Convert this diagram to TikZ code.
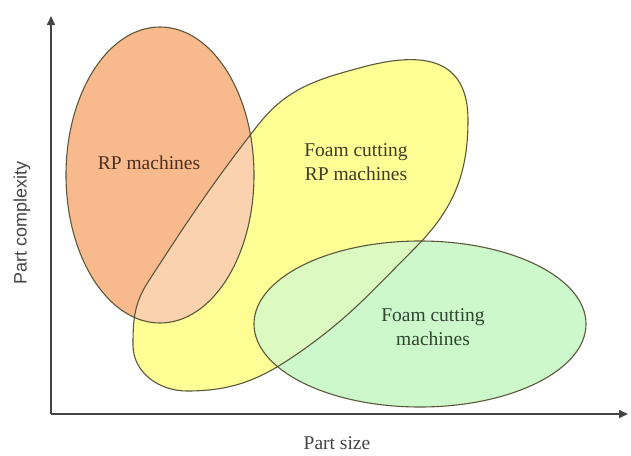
\documentclass[tikz,border=0pt]{standalone}
\usepackage{fontspec}
\setmainfont{Liberation Serif}
\newfontfamily\axsans{Liberation Sans}
\usetikzlibrary{arrows.meta}
\definecolor{yelc}{HTML}{FFFF96}
\definecolor{orac}{HTML}{F8BA8C}
\definecolor{peac}{HTML}{FAD2AE}
\definecolor{grec}{HTML}{CDF8CC}
\definecolor{lgrc}{HTML}{DDF9C2}
\definecolor{edgec}{HTML}{5A573A}
\definecolor{axc}{HTML}{444444}
\definecolor{rptext}{HTML}{4A2E1E}
\definecolor{fctext}{HTML}{3E3C22}
\definecolor{gtext}{HTML}{2E462E}
\tikzset{
  blob/.style={draw=edgec, line width=1.1pt},
  lbl/.style={font=\fontsize{19.5}{24}\selectfont, align=center, inner sep=0pt},
  axis/.style={draw=axc, line width=1.6pt, -{Triangle[length=9pt,width=8pt]}},
  axlbl/.style={text=axc, inner sep=0pt}
}
\def\yelblob{(133,-345) to[out=90,in=237] (148,-282)
  to[out=57,in=232] (258,-125)
  to[out=52,in=195] (363,-67)
  to[out=15,in=90,looseness=1.35] (468,-120)
  to[out=-90,in=45] (415,-248)
  to[out=-135,in=35] (300,-352)
  to[out=-145,in=0] (187,-391)
  to[out=180,in=-90] (133,-345) -- cycle}
\begin{document}
\begin{tikzpicture}[x=1pt,y=1pt]
\useasboundingbox (0,0) rectangle (631,-455);
% fills
\fill[yelc] \yelblob;
\fill[orac] (160,-175) ellipse [x radius=94, y radius=148];
\begin{scope}
  \clip \yelblob;
  \fill[peac] (160,-175) ellipse [x radius=94, y radius=148];
\end{scope}
\fill[grec] (420,-324) ellipse [x radius=166, y radius=83];
\begin{scope}
  \clip \yelblob;
  \fill[lgrc] (420,-324) ellipse [x radius=166, y radius=83];
\end{scope}
% outlines
\draw[blob] \yelblob;
\draw[blob] (160,-175) ellipse [x radius=94, y radius=148];
\draw[blob] (420,-324) ellipse [x radius=166, y radius=83];
% axes
\coordinate (o) at (51,-414);
\coordinate (ytop) at (51,-16);
\coordinate (xend) at (628,-414);
\draw[axis] (o) -- (ytop);
\draw[axis] (o) -- (xend);
% labels
\node[lbl, text=rptext] (rp) at (149,-163) {RP machines};
\node[lbl, text=fctext] (fcrp) at (356,-162) {Foam cutting\\RP machines};
\node[lbl, text=gtext] (fcm) at (433,-327) {Foam cutting\\machines};
\node[axlbl, font=\fontsize{19.5}{24}\selectfont] (xl) at (337,-443) {Part size};
\node[axlbl, font=\axsans\fontsize{18}{22}\selectfont, rotate=90] (yl) at (22,-223) {Part complexity};
\end{tikzpicture}
\end{document}
